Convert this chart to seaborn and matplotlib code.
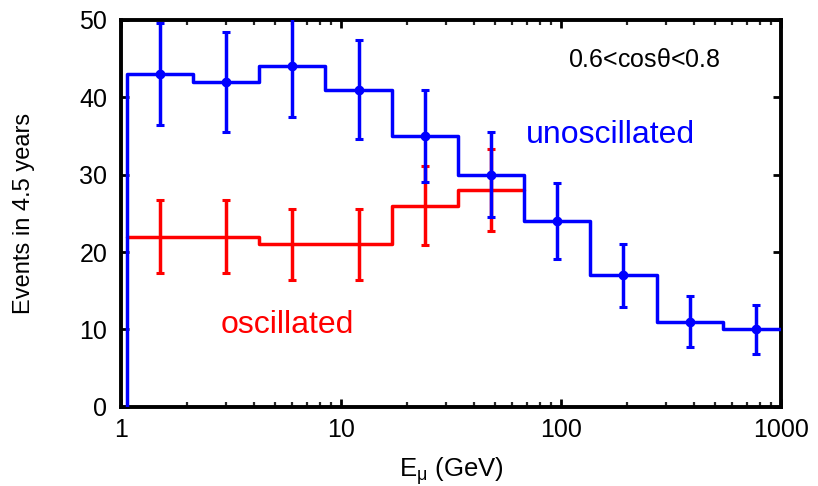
import numpy as np
import pandas as pd
import matplotlib
matplotlib.use("Agg")
import matplotlib.pyplot as plt
import seaborn as sns

# Bin edges (GeV) and bin centres
edges = [1.061, 2.121, 4.243, 8.485, 16.97, 33.94, 67.88, 135.8, 271.5, 543.1, 1086.0]
centers = [1.5, 3, 6, 12, 24, 48, 96, 192, 384, 768]

# Unoscillated expectation with statistical errors
unosc = [43, 42, 44, 41, 35, 30, 24, 17, 11, 10]
unosc_err = [6.6, 6.5, 6.6, 6.4, 5.9, 5.5, 4.9, 4.1, 3.3, 3.2]

# Oscillated expectation (first six bins) with statistical errors
osc = [22, 22, 21, 21, 26, 28]
osc_err = [4.7, 4.7, 4.6, 4.6, 5.1, 5.3]

x_ticks = [1, 10, 100, 1000]
x_ticklabels = ["1", "10", "100", "1000"]
y_ticks = [0, 10, 20, 30, 40, 50]

sns.set_theme(style="ticks")
plt.rcParams["font.family"] = ["Liberation Sans", "DejaVu Sans"]
plt.rcParams["mathtext.fontset"] = "custom"
plt.rcParams["mathtext.rm"] = "Liberation Sans"
plt.rcParams["mathtext.it"] = "Liberation Sans"

fig = plt.figure(figsize=(8.18, 4.86), dpi=100)
ax = fig.add_axes([0.148, 0.163, 0.807, 0.796])

BLUE = "#0000ff"
RED = "#ff0000"
LW = 2.5

# Step outlines: oscillated is open-ended, unoscillated rises from zero
red_x = edges[:len(osc) + 1]
red_y = osc + [osc[-1]]
df_red = pd.DataFrame({"E": red_x, "N": red_y})
sns.lineplot(data=df_red, x="E", y="N", drawstyle="steps-post", color=RED,
             lw=LW, estimator=None, sort=False, ax=ax)

blue_x = [edges[0]] + edges
blue_y = [0] + unosc + [unosc[-1]]
df_blue = pd.DataFrame({"E": blue_x, "N": blue_y})

ax.errorbar(centers[:len(osc)], osc, yerr=osc_err, fmt="none", ecolor=RED,
            elinewidth=LW, capsize=3, capthick=2.2, zorder=3)

sns.lineplot(data=df_blue, x="E", y="N", drawstyle="steps-post", color=BLUE,
             lw=LW, estimator=None, sort=False, ax=ax, zorder=4)
ax.errorbar(centers, unosc, yerr=unosc_err, fmt="o", color=BLUE, ecolor=BLUE,
            ms=6, elinewidth=LW, capsize=3, capthick=2.2, zorder=5)

ax.set_xscale("log")
ax.set_xlim(1, 1000)
ax.set_ylim(0, 50)
ax.set_xticks(x_ticks)
ax.set_xticklabels(x_ticklabels)
ax.set_yticks(y_ticks)

ax.tick_params(axis="both", which="major", direction="in", length=6, width=2,
               top=True, right=True, labelsize=18, colors="black", pad=8)
ax.tick_params(axis="y", which="major", pad=10)
ax.tick_params(axis="x", which="minor", direction="in", length=3.5, width=1.6,
               top=True, bottom=True)
ax.tick_params(axis="y", which="minor", left=False, right=False)
for s in ax.spines.values():
    s.set_linewidth(2.8)
    s.set_color("black")

ax.set_xlabel(r"$\mathregular{E_{\mu}}$ (GeV)", fontsize=18.5, color="black", labelpad=10)
ax.set_ylabel("Events in 4.5 years", fontsize=17, color="black")
ax.yaxis.set_label_coords(-0.13, 0.5)

ax.text(0.792, 0.879, r"0.6<cos$\mathregular{\theta}$<0.8", transform=ax.transAxes,
        fontsize=18, color="black", ha="center", va="baseline")
ax.text(0.741, 0.682, "unoscillated", transform=ax.transAxes,
        fontsize=23, color=BLUE, ha="center", va="baseline")
ax.text(0.252, 0.191, "oscillated", transform=ax.transAxes,
        fontsize=23, color=RED, ha="center", va="baseline")

fig.savefig("out.png", dpi=100)
